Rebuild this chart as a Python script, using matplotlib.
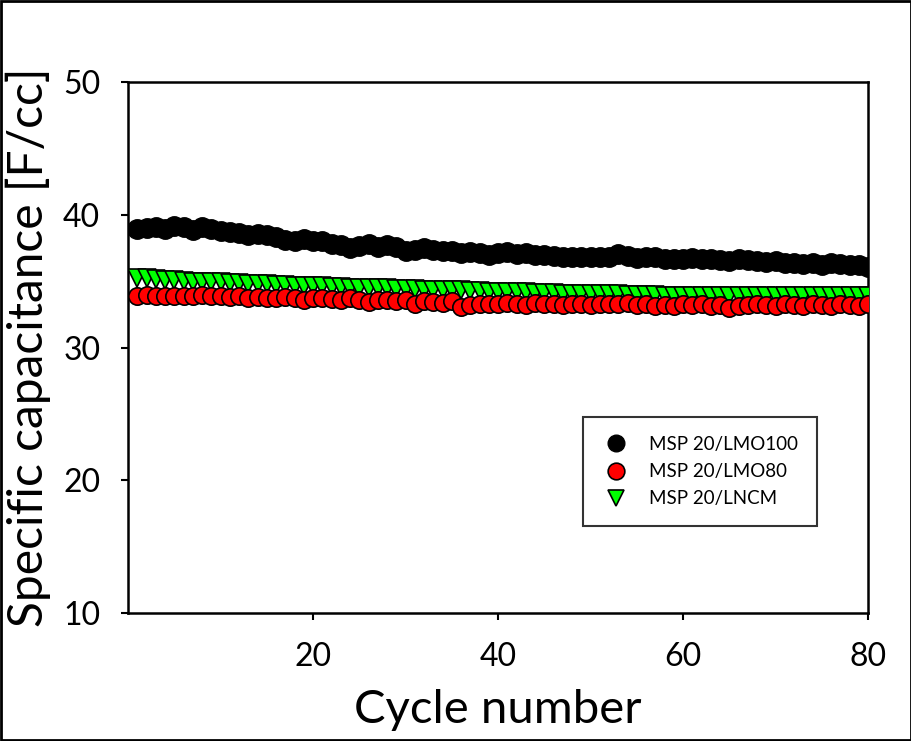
import matplotlib
matplotlib.use("Agg")
import matplotlib.pyplot as plt
import numpy as np

plt.rcParams['font.family'] = ['Lato', 'DejaVu Sans']

# --- data ---
cycles = np.arange(1, 81)

lmo100 = [38.95, 39.0, 39.1, 38.9, 39.15, 39.05, 38.85, 39.05, 38.9, 38.75,
          38.7, 38.6, 38.5, 38.55, 38.45, 38.3, 38.1, 38.0, 38.15, 38.0,
          38.05, 37.8, 37.7, 37.5, 37.65, 37.8, 37.6, 37.7, 37.55, 37.3,
          37.35, 37.5, 37.35, 37.25, 37.3, 37.15, 37.2, 37.1, 37.0, 37.1,
          37.2, 37.05, 37.1, 37.0, 36.95, 36.9, 36.8, 36.85, 36.8, 36.85,
          36.8, 36.85, 37.05, 36.9, 36.75, 36.8, 36.85, 36.7, 36.65, 36.7,
          36.75, 36.65, 36.7, 36.6, 36.55, 36.65, 36.6, 36.5, 36.45, 36.5,
          36.4, 36.35, 36.3, 36.35, 36.25, 36.4, 36.3, 36.2, 36.25, 36.05]

lmo80 = [33.85, 33.95, 33.9, 33.85, 33.9, 33.85, 33.9, 33.95, 33.85, 33.9,
         33.8, 33.85, 33.75, 33.8, 33.75, 33.7, 33.8, 33.75, 33.6, 33.75,
         33.7, 33.65, 33.6, 33.7, 33.55, 33.4, 33.6, 33.55, 33.5, 33.55,
         33.3, 33.5, 33.45, 33.35, 33.5, 33.05, 33.2, 33.3, 33.25, 33.3,
         33.35, 33.3, 33.2, 33.35, 33.25, 33.3, 33.2, 33.3, 33.25, 33.2,
         33.3, 33.25, 33.3, 33.35, 33.2, 33.25, 33.1, 33.2, 33.15, 33.25,
         33.2, 33.3, 33.15, 33.2, 32.95, 33.15, 33.2, 33.25, 33.2, 33.15,
         33.25, 33.2, 33.15, 33.25, 33.2, 33.15, 33.25, 33.2, 33.15, 33.25]

lncm = [35.25, 35.2, 35.15, 35.1, 35.05, 35.0, 34.95, 34.95, 34.9, 34.9,
        34.85, 34.85, 34.8, 34.8, 34.75, 34.7, 34.7, 34.65, 34.65, 34.6,
        34.6, 34.55, 34.55, 34.5, 34.5, 34.5, 34.45, 34.45, 34.4, 34.4,
        34.4, 34.35, 34.35, 34.3, 34.3, 34.3, 34.25, 34.25, 34.2, 34.2,
        34.2, 34.15, 34.15, 34.1, 34.1, 34.1, 34.05, 34.05, 34.05, 34.0,
        34.0, 34.0, 34.0, 33.95, 33.95, 33.95, 33.95, 33.9, 33.9, 33.9,
        33.9, 33.9, 33.9, 33.9, 33.85, 33.9, 33.85, 33.9, 33.85, 33.85,
        33.85, 33.85, 33.85, 33.85, 33.85, 33.85, 33.85, 33.85, 33.85, 33.85]

labels = ['MSP 20/LMO100', 'MSP 20/LMO80', 'MSP 20/LNCM']

# --- figure ---
fig = plt.figure(figsize=(9.12, 7.41), dpi=100)
ax = fig.add_axes([0.1404, 0.1727, 0.8114, 0.7166])

ax.plot(cycles, lmo100, 'o', ms=14, mfc='black', mec='black', mew=1,
        label=labels[0], zorder=3)
ax.plot(cycles, lncm, 'v', ms=13, mfc='#00ff00', mec='black', mew=1.2,
        label=labels[2], zorder=3)
ax.plot(cycles, lmo80, 'o', ms=12.5, mfc='#ff0000', mec='black', mew=1.2,
        label=labels[1], zorder=4)

ax.set_xlim(0, 80)
ax.set_ylim(10, 50)
ax.set_xticks([20, 40, 60, 80])
ax.set_yticks([10, 20, 30, 40, 50])
ax.tick_params(direction='out', length=5, width=1.5, labelsize=23)
ax.tick_params(axis='y', pad=15)
ax.tick_params(axis='x', pad=16)
for s in ax.spines.values():
    s.set_linewidth(1.8)

ax.set_xlabel('Cycle number', fontsize=34, labelpad=12)
ax.set_ylabel('Specific capacitance [F/cc]', fontsize=34.5, labelpad=9)

h, l = ax.get_legend_handles_labels()
order = [0, 2, 1]
leg = ax.legend([h[i] for i in order], [l[i] for i in order],
                loc='upper left', bbox_to_anchor=(0.615, 0.369),
                fontsize=13.5, frameon=True, fancybox=False,
                borderpad=1.0, labelspacing=0.55, handletextpad=1.0,
                handlelength=1.5, borderaxespad=0)
leg.get_frame().set_edgecolor('black')
leg.get_frame().set_linewidth(1.5)
for lh in leg.legend_handles:
    lh.set_markersize(12)

# border round the whole picture
fig.patches.append(plt.Rectangle((0.001, 0.001), 0.998, 0.998,
                                 transform=fig.transFigure, fill=False,
                                 edgecolor='black', linewidth=2))

fig.savefig('out.png', dpi=100)
